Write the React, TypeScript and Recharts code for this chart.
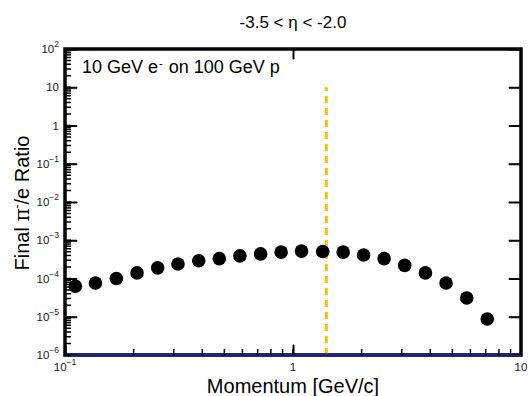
import { ScatterChart, Scatter, XAxis, YAxis, ReferenceLine, ReferenceArea } from 'recharts'

// momentum [GeV/c] and final pi-/e ratio
const momentum = [0.111, 0.136, 0.168, 0.207, 0.255, 0.313, 0.386, 0.475, 0.585, 0.721, 0.887, 1.09, 1.35, 1.66, 2.04, 2.51, 3.09, 3.81, 4.69, 5.78, 7.11]
const ratio = [6.3e-5, 7.6e-5, 1.0e-4, 1.4e-4, 1.9e-4, 2.4e-4, 2.9e-4, 3.3e-4, 3.9e-4, 4.4e-4, 4.9e-4, 5.2e-4, 5.1e-4, 4.9e-4, 4.1e-4, 3.3e-4, 2.2e-4, 1.4e-4, 7.6e-5, 3.1e-5, 8.7e-6]

const xDecades = [0.1, 1, 10]
const yDecades = [1e-6, 1e-5, 1e-4, 1e-3, 1e-2, 1e-1, 1, 10, 100]
const minorSteps = [2, 3, 4, 5, 6, 7, 8, 9]

const cutMomentum = 1.4
const cutTop = 10

const xMin = xDecades[0]
const xMax = xDecades[xDecades.length - 1]
const yMin = yDecades[0]
const yMax = yDecades[yDecades.length - 1]

const data = momentum.map((p, i) => ({ p, r: ratio[i] }))

const withMinors = (decades: number[]) =>
  decades.flatMap((d, i) => (i < decades.length - 1 ? [d, ...minorSteps.map((s) => d * s)] : [d]))

const xTicks = withMinors(xDecades)
const yTicks = withMinors(yDecades)

const isMajor = (v: number) => Math.abs(Math.log10(v) - Math.round(Math.log10(v))) < 1e-6

// long marks on the decades, drawn from the frame inwards
const leftMarks = yDecades.map((r) => ({ p: xMin, r }))
const rightMarks = yDecades.map((r) => ({ p: xMax, r }))
const bottomMarks = xDecades.map((p) => ({ p, r: yMin }))
const topMarks = xDecades.map((p) => ({ p, r: yMax }))

const font = '"Liberation Sans", Arial, Helvetica, sans-serif'
const tickIn = 6

function PowerLabel({ v, x, y, anchor }: { v: number; x: number; y: number; anchor: 'end' | 'middle' }) {
  const e = Math.round(Math.log10(v))
  return (
    <text x={x} y={y} textAnchor={anchor} dominantBaseline="central" fontSize={11.5} fill="#222" fontFamily={font}>
      {e === 0 ? '1' : e === 1 ? '10' : (
        <>
          10<tspan dy={-5} fontSize={8.5}>{e < 0 ? '\u2212' + -e : e}</tspan>
        </>
      )}
    </text>
  )
}

function LeftLabel(props: any) {
  if (!isMajor(props.payload.value)) return <g />
  return <PowerLabel v={props.payload.value} x={Number(props.x) - tickIn - 6} y={Number(props.y)} anchor="end" />
}

function BottomLabel(props: any) {
  if (!isMajor(props.payload.value)) return <g />
  return <PowerLabel v={props.payload.value} x={Number(props.x)} y={Number(props.y) + tickIn + 12} anchor="middle" />
}

const NoLabel = () => <g />

const markShape = (w: number, h: number) => (props: any) => (
  <path
    d={`M${props.cx},${props.cy}h${w}v${h}h${-w}z`}
    fill="#000"
    stroke="#000"
    strokeWidth={1}
  />
)

const Dot = (props: any) => <circle cx={props.cx} cy={props.cy} r={6.8} fill="#000" />

const tickStyle = { stroke: '#000', strokeWidth: 1.5 }

export default function App() {
  return (
    <div style={{ position: 'relative', width: 529, height: 396, background: '#fff', fontFamily: font }}>
      <style>{'body{margin:0}'}</style>
      <ScatterChart width={529} height={396} margin={{ top: 49, right: 8, bottom: 0, left: 0 }}>
        <XAxis
          xAxisId={0}
          dataKey="p"
          type="number"
          scale="log"
          domain={[xMin, xMax]}
          allowDataOverflow
          ticks={xTicks}
          interval={0}
          tickSize={-tickIn}
          tickMargin={0}
          tickLine={tickStyle}
          height={41}
          axisLine={false}
          tick={BottomLabel}
        />
        <XAxis
          xAxisId="top"
          orientation="top"
          type="number"
          scale="log"
          domain={[xMin, xMax]}
          allowDataOverflow
          ticks={xTicks}
          interval={0}
          tickSize={-tickIn}
          tickMargin={0}
          tickLine={tickStyle}
          height={0}
          axisLine={false}
          tick={NoLabel}
        />
        <YAxis
          yAxisId={0}
          dataKey="r"
          type="number"
          scale="log"
          domain={[yMin, yMax]}
          allowDataOverflow
          ticks={yTicks}
          interval={0}
          tickSize={-tickIn}
          tickMargin={0}
          tickLine={tickStyle}
          width={65}
          axisLine={false}
          tick={LeftLabel}
        />
        <YAxis
          yAxisId="right"
          orientation="right"
          type="number"
          scale="log"
          domain={[yMin, yMax]}
          allowDataOverflow
          ticks={yTicks}
          interval={0}
          tickSize={-tickIn}
          tickMargin={0}
          tickLine={tickStyle}
          width={0}
          axisLine={false}
          tick={NoLabel}
        />
        <Scatter xAxisId={0} yAxisId={0} data={leftMarks} shape={markShape(12, 1)} isAnimationActive={false} />
        <Scatter xAxisId={0} yAxisId={0} data={rightMarks} shape={markShape(-12, 1)} isAnimationActive={false} />
        <Scatter xAxisId={0} yAxisId={0} data={bottomMarks} shape={markShape(1, -10)} isAnimationActive={false} />
        <Scatter xAxisId={0} yAxisId={0} data={topMarks} shape={markShape(1, 10)} isAnimationActive={false} />
        <ReferenceLine
          xAxisId={0}
          yAxisId={0}
          segment={[{ x: cutMomentum, y: yMin }, { x: cutMomentum, y: cutTop }]}
          stroke="#f5c400"
          strokeWidth={3}
          strokeDasharray="7 5"
        />
        <Scatter xAxisId={0} yAxisId={0} data={data} shape={<Dot />} isAnimationActive={false} />
        <ReferenceArea
          xAxisId={0}
          yAxisId={0}
          x1={xMin}
          x2={xMax}
          y1={yMin}
          y2={yMax}
          fill="none"
          fillOpacity={0}
          stroke="#000"
          strokeWidth={3.5}
          strokeOpacity={1}
          ifOverflow="visible"
        />
        <ReferenceLine xAxisId={0} yAxisId={0} y={yMin} stroke="#1b2470" strokeWidth={3.5} ifOverflow="visible" />
      </ScatterChart>

      <div style={{ position: 'absolute', left: 143, top: 14, width: 300, textAlign: 'center', fontSize: 17, lineHeight: '17px', color: '#000', whiteSpace: 'pre' }}>
        {'-3.5 < \u03b7 < -2.0'}
      </div>
      <div style={{ position: 'absolute', left: 82, top: 58, fontSize: 18, lineHeight: '18px', color: '#000', whiteSpace: 'pre' }}>
        10 GeV e<sup style={{ fontSize: 11, verticalAlign: 'top', lineHeight: '10px', margin: '0 1px' }}>-</sup> on 100 GeV p
      </div>
      <div style={{ position: 'absolute', left: 143, top: 376, width: 300, textAlign: 'center', fontSize: 20, lineHeight: '20px', color: '#000' }}>
        Momentum [GeV/c]
      </div>
      <div style={{ position: 'absolute', left: -78.5, top: 193, width: 200, height: 20, textAlign: 'center', fontSize: 20, lineHeight: '20px', color: '#000', transform: 'rotate(-90deg)', whiteSpace: 'pre' }}>
        Final <span style={{ fontFamily: '"DejaVu Serif", serif' }}>{'\u03c0'}</span><sup style={{ fontSize: 12, verticalAlign: 'top', lineHeight: '10px' }}>-</sup>/e Ratio
      </div>
    </div>
  )
}
